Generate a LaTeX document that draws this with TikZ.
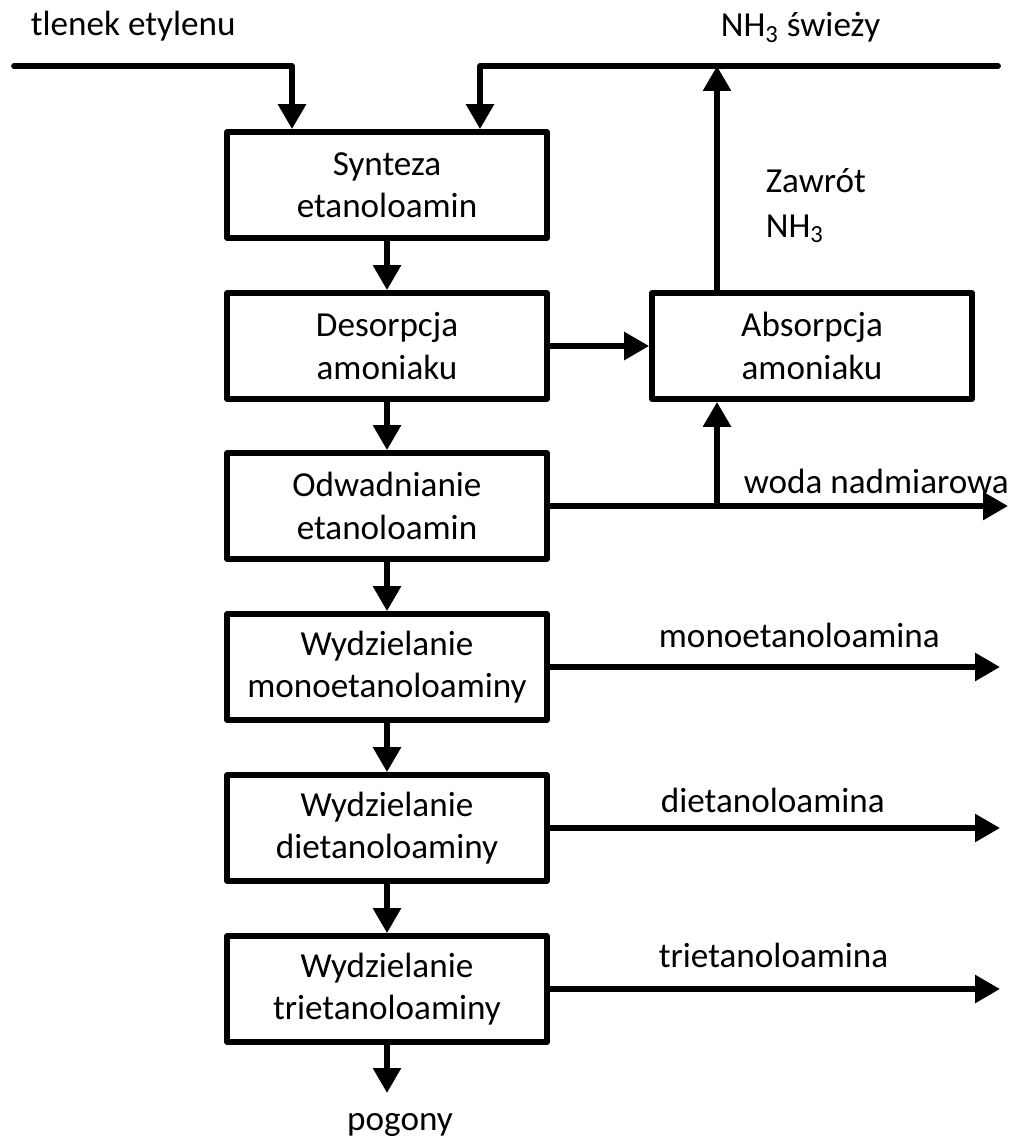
\documentclass[tikz,border=0pt]{standalone}
\usepackage{fontspec}
\setmainfont{Carlito}
\usetikzlibrary{arrows.meta}

\begin{document}
\begin{tikzpicture}[x=0.02cm, y=-0.02cm, >={Triangle[length=0.5cm, width=0.54cm]},
    line width=3.3pt, line cap=round, line join=round,
    font=\fontsize{20}{24}\selectfont,
    etap/.style={draw, minimum width=6.4cm, minimum height=2.12cm, align=center, inner sep=0pt},
    opis/.style={inner sep=0pt, anchor=base west}]

    \useasboundingbox (0, 0) rectangle (1015, 1142);

    % 1. Bloki procesu (kolumna glowna + absorpcja)
    \node[etap] (synteza) at (387, 185) {Synteza\\etanoloamin};
    \node[etap] (desorpcja) at (387, 346) {Desorpcja\\amoniaku};
    \node[etap] (absorpcja) at (812, 346) {Absorpcja\\amoniaku};
    \node[etap] (odwadnianie) at (387, 506) {Odwadnianie\\etanoloamin};
    \node[etap] (mea) at (387, 667) {Wydzielanie\\monoetanoloaminy};
    \node[etap] (dea) at (387, 828) {Wydzielanie\\dietanoloaminy};
    \node[etap] (tea) at (387, 989) {Wydzielanie\\trietanoloaminy};

    % 2. Punkty pomocnicze linii doplywu i odplywu
    \coordinate (tlenek) at (14, 66);
    \coordinate (wlotA) at (292, 66);
    \coordinate (nh3) at (998, 66);
    \coordinate (wlotB) at (480, 66);
    \coordinate (rozgal) at (717, 506);
    \coordinate (woda) at (1008, 506);
    \coordinate (wyjMEA) at (1000, 667);
    \coordinate (wyjDEA) at (1000, 828);
    \coordinate (wyjTEA) at (1000, 989);
    \coordinate (wylot) at (387, 1093);

    % 3. Doplyw tlenku etylenu i amoniaku
    \draw[->] (tlenek) -- (wlotA) -- (wlotA |- synteza.north);
    \draw[->] (nh3) -- (wlotB) -- (wlotB |- synteza.north);
    \node[opis] (tlenekTxt) at (28, 36) {tlenek etylenu};
    \node[opis] (swiezyTxt) at (718, 37) {NH\textsubscript{3} świeży};

    % 4. Przeplyw w dol kolumny
    \draw[->] (synteza) -- (desorpcja);
    \draw[->] (desorpcja) -- (odwadnianie);
    \draw[->] (odwadnianie) -- (mea);
    \draw[->] (mea) -- (dea);
    \draw[->] (dea) -- (tea);
    \draw[->] (tea.south) -- (wylot);
    \node[opis, anchor=base] (pogony) at (400, 1130) {pogony};

    % 5. Obieg amoniaku
    \draw[->] (desorpcja) -- (absorpcja);
    \draw[->] (odwadnianie.east) -- (woda);
    \draw[->] (rozgal) -- (rozgal |- absorpcja.south);
    \draw[->] (rozgal |- absorpcja.north) -- (rozgal |- nh3);
    \node[opis] (zawrot) at (763, 193) {Zawrót};
    \node[opis] (zawrotNH) at (763, 237) {NH\textsubscript{3}};
    \node[opis] (wodaTxt) at (741, 493) {woda nadmiarowa};

    % 6. Produkty
    \draw[->] (mea.east) -- (wyjMEA);
    \draw[->] (dea.east) -- (wyjDEA);
    \draw[->] (tea.east) -- (wyjTEA);
    \node[opis] (meaTxt) at (656, 647) {monoetanoloamina};
    \node[opis] (deaTxt) at (658, 812) {dietanoloamina};
    \node[opis] (teaTxt) at (656, 967) {trietanoloamina};

\end{tikzpicture}
\end{document}
